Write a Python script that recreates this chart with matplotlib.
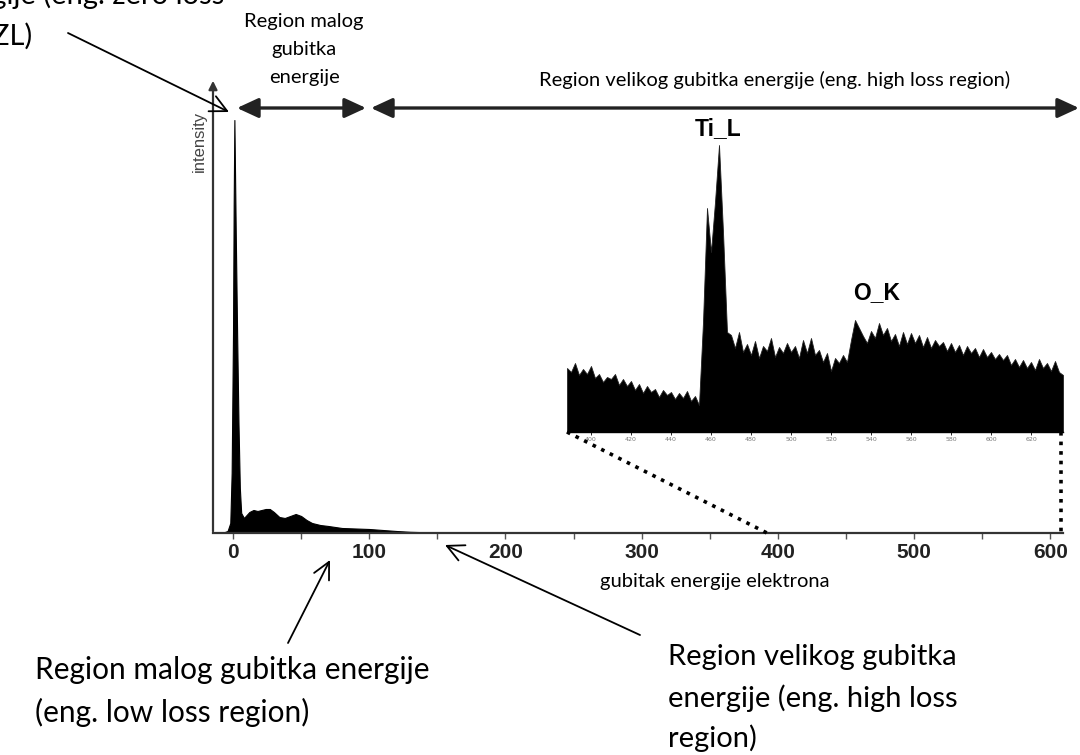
import numpy as np
import matplotlib
matplotlib.use('Agg')
import matplotlib.pyplot as plt

W, H = 1080, 755

# ---- data: low-loss part of the spectrum (main axes, arbitrary intensity) ----
low_energy = [-14, -8, -4, -2, -1, 0, 0.5, 1, 2, 3, 4, 5, 6, 8, 10, 12, 15, 18, 21,
              24, 27, 30, 34, 38, 42, 46, 50, 54, 58, 64, 70, 80, 90, 100, 110,
              120, 130, 145, 160]
low_intensity = [0, 0, 2, 10, 60, 200, 330, 413, 300, 200, 110, 45, 20, 15, 18, 21,
                 23, 22, 23, 24, 24, 21, 16, 15, 17, 19, 17, 13, 10, 8, 7, 5, 4.5,
                 4, 3, 2, 1.2, 0.6, 0.3]

main_ticks = [0, 100, 200, 300, 400, 500, 600]
main_minor = [50, 150, 250, 350, 450, 550]

# ---- data: high-loss inset (Ti L and O K edges), 2 eV steps from 388 eV ----
inset_start, inset_step = 388, 2
inset_intensity = [
    64, 60, 69, 57, 63, 58, 66, 54, 58, 50, 55, 53, 58, 47, 53, 46, 51, 42, 48, 39,
    46, 40, 43, 35, 42, 37, 40, 33, 39, 34, 41, 31, 36, 27,
    110, 224, 180, 230, 287, 200, 100,
    97, 84, 100, 80, 88, 77, 91, 74, 86, 81, 94, 75, 85, 79, 89, 80, 86, 74, 92, 79,
    94, 77, 82, 70, 79, 61, 74, 69, 77, 70,
    92, 112, 104, 96, 89, 101, 94, 109, 97, 104, 91, 98, 86, 100, 88, 99, 89, 97, 85,
    95, 84, 92, 86, 90, 81, 89, 80, 87, 77, 86, 79, 84, 75, 83, 75, 80, 73, 78, 72,
    77, 67, 73, 65, 72, 64, 70, 62, 73, 64, 69, 61, 71, 60, 57]
inset_ticks = [400, 420, 440, 460, 480, 500, 520, 540, 560, 580, 600, 620]

CAL = ['Lato', 'DejaVu Sans']
ARI = ['Liberation Sans', 'DejaVu Sans']

fig = plt.figure(figsize=(W / 100, H / 100), dpi=100)


def P(x, y):
    return (x / W, 1 - y / H)


# ---- main axes ----
ax = fig.add_axes([213 / W, (H - 533) / H, (1063 - 213) / W, (533 - 80) / H])
ax.fill_between(low_energy, low_intensity, color='black', lw=0.8)
ax.set_xlim(-14.7, 609.4)
ax.set_ylim(0, 453)
for s in ['top', 'right', 'left']:
    ax.spines[s].set_visible(False)
ax.spines['bottom'].set_linewidth(1.6)
ax.spines['bottom'].set_color('#333333')
ax.tick_params(axis='y', left=False, labelleft=False)
ax.set_xticks(main_ticks)
ax.set_xticks(main_minor, minor=True)
ax.set_xticklabels([str(t) for t in main_ticks], fontweight='bold',
                   fontfamily=ARI, fontsize=15, color='#222222')
ax.tick_params(axis='x', which='both', direction='out', length=4, width=1,
               color='#555555', pad=3)
ax.patch.set_alpha(0)

# y axis with arrow
fig.add_artist(matplotlib.patches.FancyArrowPatch(
    P(213, 534), P(213, 78), transform=fig.transFigure,
    arrowstyle='-|>,head_length=5,head_width=2.5', color='#333333', lw=1.6,
    mutation_scale=1))
fig.text(*P(199, 141), 'intensity', rotation=90, ha='center', va='center',
         fontsize=12, fontfamily=ARI, color='#444444')

# ---- inset ----
axi = fig.add_axes([567 / W, (H - 432) / H, 496 / W, 300 / H])
x_in = inset_start + inset_step * np.arange(len(inset_intensity))
axi.fill_between(x_in, inset_intensity, color='black', lw=0.6, edgecolor='#222222')
axi.set_xlim(388, 636)
axi.set_ylim(0, 300)
for s in ['top', 'right', 'left']:
    axi.spines[s].set_visible(False)
axi.spines['bottom'].set_linewidth(1.0)
axi.set_yticks([])
axi.set_xticks(inset_ticks)
axi.tick_params(axis='x', labelsize=4.5, labelcolor='#777777', length=2,
                width=0.6, pad=1.5)
axi.patch.set_alpha(0)

fig.text(*P(718, 129), 'Ti_L', ha='center', va='center', fontsize=16.5,
         fontweight='bold', fontfamily=ARI)
fig.text(*P(877, 293), 'O_K', ha='center', va='center', fontsize=16.5,
         fontweight='bold', fontfamily=ARI)

# dotted zoom lines
fig.add_artist(plt.Line2D([567 / W, 767 / W], [1 - 432 / H, 1 - 533 / H],
                          ls=':', lw=2.6, color='black'))
fig.add_artist(plt.Line2D([1061 / W, 1061 / W], [1 - 432 / H, 1 - 533 / H],
                          ls=':', lw=2.6, color='black'))

# ---- region arrows (top) ----
for x0, x1 in [(237, 366), (371, 1079)]:
    fig.add_artist(matplotlib.patches.FancyArrowPatch(
        P(x0, 108), P(x1, 108), transform=fig.transFigure,
        arrowstyle='<|-|>,head_length=13,head_width=6', color='#222222',
        lw=2.4, mutation_scale=1, shrinkA=0, shrinkB=0))

for txt, yy in [('Region malog', 22), ('gubitka', 50), ('energije', 78)]:
    fig.text(*P(304, yy), txt, ha='center', va='center', fontsize=14.5,
             fontfamily=CAL)
fig.text(*P(775, 80), 'Region velikog gubitka energije (eng. high loss region)',
         ha='center', va='center', fontsize=14.5, fontfamily=CAL)
fig.text(*P(715, 582), 'gubitak energije elektrona', ha='center', va='center',
         fontsize=14.5, fontfamily=CAL)

# ---- callout texts and arrows ----
fig.text(*P(224, 4), 'Pik nultog gubitka energije (eng. zero loss',
         ha='right', va='baseline', fontsize=21, fontfamily=CAL)
fig.text(*P(32, 45), 'peak, ZL)', ha='right', va='baseline', fontsize=21,
         fontfamily=CAL)

for (x0, y0), (x1, y1) in [((68, 33), (229, 112)), ((288, 643), (330, 560)),
                           ((640, 635), (445, 545))]:
    fig.add_artist(matplotlib.patches.FancyArrowPatch(
        P(x0, y0), P(x1, y1), transform=fig.transFigure,
        arrowstyle='->,head_length=12,head_width=6', color='black', lw=1.3,
        mutation_scale=1, shrinkA=0, shrinkB=0))

fig.text(*P(35, 670), 'Region malog gubitka energije', ha='left', va='center',
         fontsize=21.5, fontfamily=CAL)
fig.text(*P(35, 712), '(eng. low loss region)', ha='left', va='center',
         fontsize=21.5, fontfamily=CAL)
fig.text(*P(668, 657), 'Region velikog gubitka', ha='left', va='center',
         fontsize=21, fontfamily=CAL)
fig.text(*P(668, 698), 'energije (eng. high loss', ha='left', va='center',
         fontsize=21, fontfamily=CAL)
fig.text(*P(668, 738), 'region)', ha='left', va='center', fontsize=21,
         fontfamily=CAL)

fig.savefig('out.png', dpi=100)
